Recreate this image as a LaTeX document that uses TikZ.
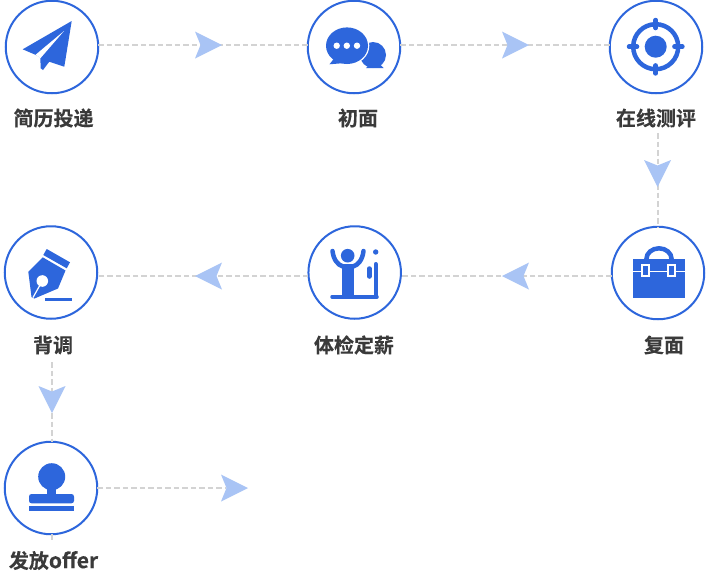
\documentclass[tikz,border=0pt]{standalone}
\usepackage{fontspec}
\setmainfont{Noto Sans CJK SC}[BoldFont={Noto Sans CJK SC Bold},BoldFeatures={FakeBold=0.25}]
\definecolor{iconblue}{HTML}{2D66DC}
\definecolor{arrowblue}{HTML}{A9C4F5}
\definecolor{dashgrey}{HTML}{D3D3D3}
\definecolor{labeltext}{HTML}{3A3A3A}
\tikzset{
  stepcircle/.style={circle,draw=iconblue,line width=2pt,fill=white,minimum size=92.5pt,inner sep=0pt,outer sep=0pt},
  steplabel/.style={text=labeltext,font=\fontsize{20}{20}\selectfont\bfseries,inner sep=0pt,anchor=center},
  conn/.style={draw=dashgrey,line width=1.1pt,dash pattern=on 5.5pt off 3pt},
  icon/.style={fill=iconblue,draw=none},
  flowhead/.pic={\fill[arrowblue] (0,-13.5) -- (27,0) -- (0,13.5) -- (5.5,0) -- cycle;}
}
\begin{document}
\begin{tikzpicture}[x=1pt,y=-1pt]
\useasboundingbox[fill=white] (0,0) rectangle (710,571);
% connector end points
\coordinate (v1) at (658,133);
\coordinate (v2) at (52,362);
\coordinate (stub) at (52,540);
\coordinate (endr) at (226,488);
% step circles are placed first so that connectors can name them
\path
  node[stepcircle] (s1) at (52,47) {}
  node[stepcircle] (s2) at (354,47) {}
  node[stepcircle] (s3) at (656,47) {}
  node[stepcircle] (s4) at (658,273) {}
  node[stepcircle] (s5) at (354.7,272.5) {}
  node[stepcircle] (s6) at (51,272.5) {}
  node[stepcircle] (s7) at (51,488) {};
\node[steplabel] (l1) at (53.5,118) {简历投递};
\node[steplabel] (l2) at (358,118) {初面};
\node[steplabel] (l3) at (656,118) {在线测评};
\node[steplabel] (l4) at (664,345) {复面};
\node[steplabel] (l5) at (354,345) {体检定薪};
\node[steplabel] (l6) at (53,345) {背调};
\node[steplabel] (l7) at (53.5,560.5) {发放{\fontsize{21}{20}\selectfont offer}};
% connectors
\draw[conn] (s1.east |- 0,45) -- (s2.west |- 0,45);
\draw[conn] (s2.east |- 0,45) -- (s3.west |- 0,45);
\draw[conn] (v1) -- (v1 |- s4.north);
\draw[conn] (s4.west |- 0,276) -- (s5.east |- 0,276);
\draw[conn] (s5.west |- 0,276) -- (s6.east |- 0,276);
\draw[conn] (v2) -- (v2 |- s7.north);
\draw[conn] (stub |- s7.south) -- (stub);
\draw[conn] (s7.east) -- (endr);
% arrowheads
\pic at (195,45) {flowhead};
\pic at (502,45) {flowhead};
\pic[rotate=-90] at (657.5,160) {flowhead};
\pic[rotate=180] at (529,276) {flowhead};
\pic[rotate=180] at (222,276) {flowhead};
\pic[rotate=-90] at (52,386) {flowhead};
\pic at (221,488) {flowhead};
% paper plane
\fill[icon,line join=round] (71.7,21) -- (22.7,49.3) -- (36,55) -- (40.3,57.5) -- (40.7,68.3) -- (43,70) -- (49.3,61.7) -- (64.3,66.7) -- cycle;
\fill[white] (64,31) -- (35.5,54.8) -- (40.6,58) -- cycle;
% chat bubbles
\fill[icon] (373,55) circle (13);
\fill[icon] (376,60) -- (383.5,68) -- (366,68) -- cycle;
\fill[white] (347,45.7) ellipse (22.3 and 19.6);
\fill[icon] (347,45.7) ellipse (21 and 18.3);
\fill[icon] (336,56) -- (329.5,64.3) -- (345,63) -- cycle;
\foreach \cx in {336.7,346.8,357}{\fill[white] (\cx,45.7) circle (3.2);}
% target
\fill[icon] (655.7,46.7) circle (11);
\draw[iconblue,line width=4.5pt] (655.7,46.7) circle (22.5);
\draw[iconblue,line width=4.5pt,line cap=round]
  (655.7,20) -- (655.7,28) (655.7,65.4) -- (655.7,73.4)
  (629,46.7) -- (637,46.7) (674.4,46.7) -- (682.4,46.7);
% toolbox
\draw[iconblue,line width=4.5pt] (659,259) ellipse (12.6 and 10.7);
\fill[icon] (633,259) rectangle (685,297.7);
\fill[white] (633,270.9) rectangle (685,272.4);
\fill[white] (641,264.3) rectangle (650,276.9);
\fill[icon] (643.2,266.3) rectangle (647.8,274.9);
\fill[white] (667,264.3) rectangle (676,276.9);
\fill[icon] (669.2,266.3) rectangle (673.8,274.9);
% person
\fill[icon] (347.7,255.7) circle (6.8);
\fill[icon] (341.7,264) rectangle (354.3,297);
\draw[iconblue,line width=4.5pt,line cap=round] (332.5,251) .. controls (333.5,260) and (338,265) .. (343,266.5);
\draw[iconblue,line width=4.5pt,line cap=round] (363.5,251) .. controls (362.5,260) and (358,265) .. (353,266.5);
\draw[iconblue,line width=3.5pt,line cap=round] (332,296.8) -- (377,296.8);
\draw[iconblue,line width=4pt,line cap=round] (375.7,264) -- (375.7,296.8);
\fill[icon] (375.7,252) circle (2.7);
\draw[iconblue,line width=4.5pt,line cap=round] (369.3,268.5) -- (369.3,276.5);
% fountain pen
\fill[icon] (46.7,249) -- (70,262.3) -- (66.7,268.3) -- (43.3,255) -- cycle;
\fill[icon,line join=round] (42.7,257.3) -- (65.5,270.5) -- (58,288.5) -- (34.5,298.5) -- (31.5,297) -- (28.3,271.7) -- cycle;
\draw[white,line width=1.2pt] (42.3,281) -- (33,297.5);
\fill[white] (42.3,281) circle (5.8);
\fill[icon] (45,298.2) rectangle (72,300.5);
% stamp
\fill[icon] (51.7,476.7) circle (13.5);
\fill[icon] (46.7,485) rectangle (56,495);
\fill[icon,rounded corners=2.5pt] (29,503.3) -- (29,494) -- (74,494) -- (74,503.3) -- cycle;
\fill[icon] (29,506.3) rectangle (74,511);
\end{tikzpicture}
\end{document}
